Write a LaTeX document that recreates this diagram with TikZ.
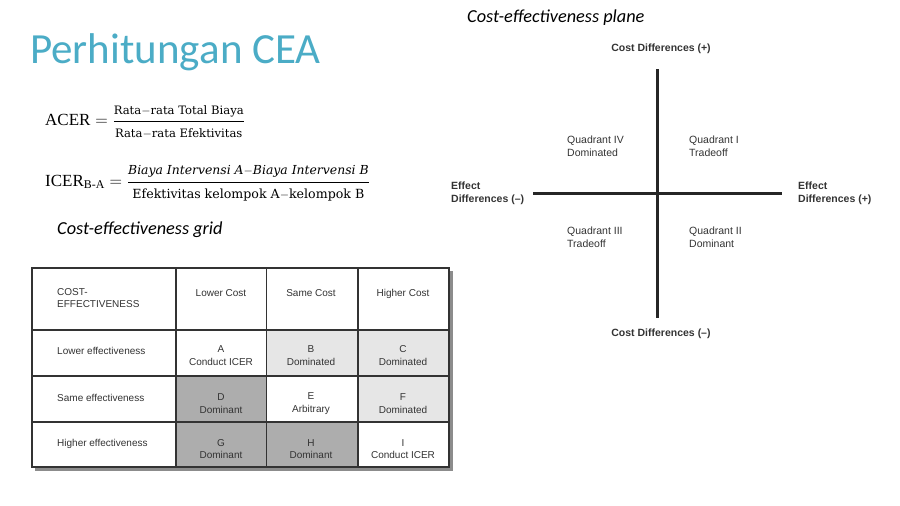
\documentclass[tikz,border=0pt]{standalone}
\usepackage{amsmath}
\usepackage{fontspec}
\setmainfont{Liberation Serif}
\setsansfont{Liberation Sans}
\newfontfamily\titlefont{Carlito}
\newfontfamily\fracfont{DejaVu Serif}
\usepackage{xcolor}
\usetikzlibrary{positioning}
\definecolor{titleblue}{HTML}{4BACC6}
\definecolor{lightcell}{HTML}{E6E6E6}
\definecolor{darkcell}{HTML}{ADADAD}
\definecolor{inktext}{HTML}{333333}

\begin{document}
\begin{tikzpicture}[x=1pt, y=-1pt,
  heading/.style={anchor=base west, inner sep=0pt, font=\titlefont\itshape\fontsize{18.3}{21}\selectfont},
  celltxt/.style={align=center, inner sep=0pt, text=inktext, font=\sffamily\fontsize{10}{12.5}\selectfont},
  rowtxt/.style={celltxt, anchor=west, align=left},
  axlbl/.style={align=left, inner sep=0pt, text=inktext, font=\sffamily\bfseries\fontsize{10.5}{13}\selectfont},
  quad/.style={anchor=west, align=left, inner sep=0pt, text=inktext, font=\sffamily\fontsize{10.5}{13}\selectfont},
  axis/.style={line width=3pt, black!85},
  grid/.style={line width=1.3pt, black!80}
]
\useasboundingbox (0,0) rectangle (900,506);

% title and formulas
\node[anchor=base west, inner sep=0pt, text=titleblue,
      font=\titlefont\fontsize{43}{50}\selectfont] (title) at (30,63) {Perhitungan CEA};
\node[anchor=west, inner sep=0pt, font=\fontsize{17}{20}\selectfont] (acer) at (45,122)
  {$\text{ACER} = \dfrac{\text{\fracfont\fontsize{11.6}{13}\selectfont Rata$-$rata Total Biaya}}
                        {\text{\fracfont\fontsize{11.6}{13}\selectfont Rata$-$rata Efektivitas}}$};
\node[anchor=west, inner sep=0pt, font=\fontsize{17}{20}\selectfont] (icer) at (45,183)
  {$\text{ICER}_{\text{B-A}} = \dfrac{\text{\fracfont\itshape\fontsize{12.4}{14}\selectfont Biaya Intervensi A$-$Biaya Intervensi B}}
                        {\text{\fracfont\fontsize{12.6}{14}\selectfont Efektivitas kelompok A$-$kelompok B}}$};

% grid
\node[heading] (gridttl) at (57,234) {Cost-effectiveness grid};
\fill[black!45] (35,271) rectangle (453,471);
\fill[white] (32,268) rectangle (449,467);
\fill[lightcell] (266.5,330) rectangle (449,376);
\fill[lightcell] (358,376) rectangle (449,422);
\fill[darkcell] (176,376) rectangle (266.5,467);
\fill[darkcell] (266.5,422) rectangle (358,467);
\draw[grid] (32,268) rectangle (449,467);
\draw[grid] (176,268) -- (176,467) (266.5,268) -- (266.5,467) (358,268) -- (358,467);
\draw[grid] (32,330) -- (449,330) (32,376) -- (449,376) (32,422) -- (449,422);

\node[rowtxt] (hdr) at (57,298) {COST-\\EFFECTIVENESS};
\node[celltxt, anchor=base] (lc) at (221,296) {Lower Cost};
\node[celltxt, anchor=base] (sc) at (311,296) {Same Cost};
\node[celltxt, anchor=base] (hc) at (403,296) {Higher Cost};
\node[rowtxt] (le) at (57,351) {Lower effectiveness};
\node[rowtxt] (se) at (57,398) {Same effectiveness};
\node[rowtxt] (he) at (57,444) {Higher effectiveness};
\node[celltxt] (ca) at (221,355.5) {A\\Conduct ICER};
\node[celltxt] (cb) at (311,355.5) {B\\Dominated};
\node[celltxt] (cc) at (403,355.5) {C\\Dominated};
\node[celltxt] (cd) at (221,403.5) {D\\Dominant};
\node[celltxt] (ce) at (311,403.5) {E\\Arbitrary};
\node[celltxt] (cf) at (403,403.5) {F\\Dominated};
\node[celltxt] (cg) at (221,449) {G\\Dominant};
\node[celltxt] (ch) at (311,449) {H\\Dominant};
\node[celltxt] (ci) at (403,449) {I\\Conduct ICER};

% plane
\node[heading] (planettl) at (467,23) {Cost-effectiveness plane};
\coordinate (ytop) at (657,69);
\coordinate (ybot) at (657,318);
\coordinate (xlft) at (533,193);
\coordinate (xrgt) at (782,193);
\draw[axis] (ytop) -- (ybot);
\draw[axis] (xlft) -- (xrgt);
\node[axlbl] (costp) at (661,49) {Cost Differences (+)};
\node[axlbl] (costm) at (661,334) {Cost Differences (--)};
\node[axlbl, anchor=west] (effm) at (451,193.5) {Effect\\Differences (--)};
\node[axlbl, anchor=west] (effp) at (798,193.5) {Effect\\Differences (+)};
\node[quad] (q4) at (567,146.5) {Quadrant IV\\Dominated};
\node[quad] (q1) at (689,146.5) {Quadrant I\\Tradeoff};
\node[quad] (q3) at (567,237.5) {Quadrant III\\Tradeoff};
\node[quad] (q2) at (689,237.5) {Quadrant II\\Dominant};
\end{tikzpicture}
\end{document}
